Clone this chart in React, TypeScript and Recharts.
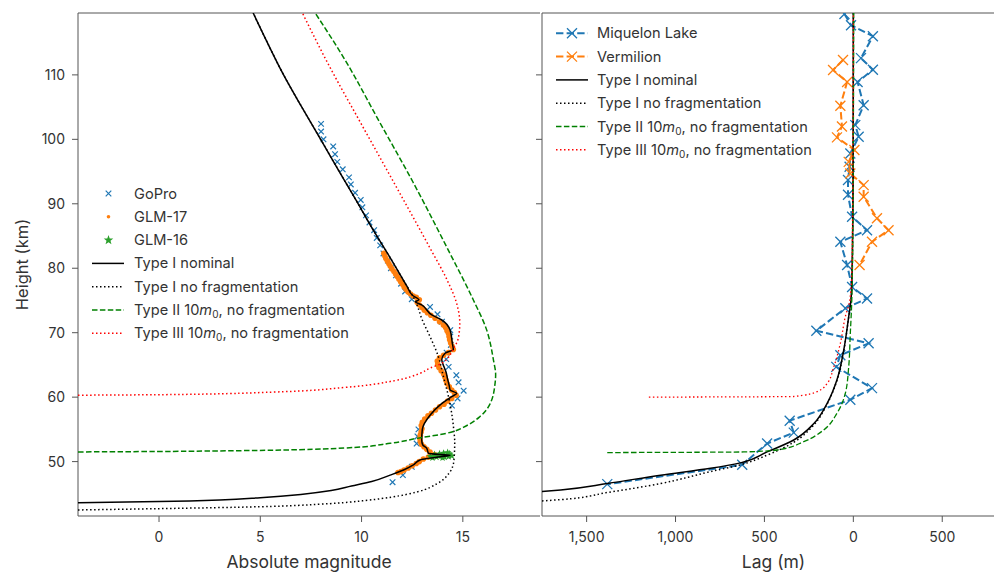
import React from "react";
import { ScatterChart, Scatter, XAxis, YAxis, ReferenceLine } from "recharts";

type Pt = [number, number];

const H_MIN = 41.56;
const H_MAX = 119.6;
const HEIGHT_TICKS = [50, 60, 70, 80, 90, 100, 110];
const MAG_TICKS = [0, 5, 10, 15];
const LAG_TICKS = [1500, 1000, 500, 0, -500];

// ---- left panel: absolute magnitude vs height (km)
const goPro: Pt[] = [
  [8.0, 102.4], [8.0, 101.2], [8.12, 100.0], [8.6, 98.9], [8.69, 97.7], [8.8, 96.5],
  [9.07, 95.35], [9.38, 94.1], [9.47, 93.0], [9.68, 91.7], [9.96, 90.6], [10.04, 89.45],
  [10.22, 88.2], [10.39, 87.1], [10.62, 85.9], [10.75, 84.7], [10.92, 83.55], [11.08, 82.3],
  [11.3, 81.2], [11.45, 80.0], [11.7, 78.9], [11.95, 77.6], [12.15, 76.4], [12.48, 75.2],
  [13.38, 74.0], [13.75, 72.85], [13.97, 71.7], [14.38, 70.4], [14.38, 69.4], [14.41, 68.1],
  [14.2, 66.9], [14.18, 65.9], [14.3, 64.7], [14.68, 63.4], [14.79, 62.3], [15.04, 61.0],
  [14.74, 59.8], [14.46, 58.7], [12.81, 55.0], [12.76, 53.9], [12.72, 52.8], [12.48, 49.2],
  [12.04, 47.9], [11.53, 46.8],
];

const glm17: Pt[] = [
  [11.1, 82.3], [11.15, 81.9], [11.2, 81.5], [11.28, 81.1], [11.35, 80.7], [11.42, 80.3],
  [11.5, 79.9], [11.6, 79.5], [11.68, 79.1], [11.76, 78.7], [11.85, 78.3], [11.93, 77.9],
  [12.02, 77.5], [12.1, 77.1], [12.2, 76.7], [12.3, 76.3], [12.42, 76.0], [12.55, 75.7],
  [12.7, 75.5], [12.85, 75.1], [12.75, 74.7], [12.85, 74.3], [12.98, 73.9], [13.1, 73.5],
  [13.25, 73.1], [13.42, 72.7], [13.63, 72.23], [13.85, 71.7], [14.04, 71.2], [14.15, 70.8],
  [14.22, 70.3], [14.29, 69.9], [14.32, 69.4], [14.35, 68.9], [14.4, 68.4], [14.47, 67.9],
  [14.53, 67.4], [14.29, 66.9], [14.05, 66.5], [13.85, 66.1], [13.74, 65.6], [13.76, 65.1],
  [13.82, 64.6], [13.93, 64.1], [14.05, 63.6], [14.12, 63.1], [14.17, 62.6], [14.22, 62.1],
  [14.33, 61.6], [14.45, 61.1], [14.58, 60.7], [14.67, 60.3], [14.45, 59.8], [14.25, 59.4],
  [14.07, 58.9], [13.85, 58.5], [13.65, 58.0], [13.45, 57.5], [13.28, 57.1], [13.12, 56.6],
  [13.0, 56.1], [12.95, 55.6], [12.98, 55.1], [12.94, 54.6], [12.9, 54.1], [12.88, 53.6],
  [12.9, 53.1], [12.96, 52.7], [13.08, 52.3], [13.22, 51.9], [13.38, 51.5], [13.6, 51.1],
  [13.3, 50.7], [13.05, 50.4], [12.85, 50.0], [12.7, 49.7], [12.5, 49.35], [12.3, 49.0],
  [12.1, 48.7], [11.95, 48.45], [11.8, 48.3],
];

const glm16: Pt[] = [
  [13.4, 50.8], [13.6, 51.1], [13.7, 50.7], [13.85, 51.2], [13.95, 50.9], [14.05, 51.3],
  [14.1, 50.7], [14.2, 51.0], [14.3, 50.8], [14.35, 51.2], [14.45, 50.9], [13.5, 50.6],
  [14.0, 50.6], [14.25, 51.4], [13.8, 50.9],
];

const magTypeINominal: Pt[] = [
  [4.65, 119.6], [5.35, 115], [6.15, 110], [7.05, 105], [7.98, 100], [8.9, 95], [9.72, 90.6],
  [10.58, 85.9], [11.38, 81.8], [12.26, 77.1], [12.51, 75.8], [12.83, 75.1],
  [12.67, 74.8], [12.97, 74.3], [13.47, 72.75], [13.96, 71.97], [14.37, 70.4], [14.48, 68.4],
  [14.53, 67.4], [14.12, 66.8], [13.96, 65.8], [14.07, 64.7], [14.17, 63.9], [14.24, 62.9],
  [14.34, 61.6], [14.37, 61.1], [14.7, 60.6], [14.45, 60.07], [13.88, 58.8], [13.38, 57.2],
  [13.0, 55.0], [12.97, 53.35], [13.02, 52.6], [13.22, 52.06], [13.3, 51.3], [13.88, 51.1],
  [14.37, 51.0], [13.88, 50.76], [13.3, 50.5], [12.89, 50.25], [12.56, 49.5], [12.07, 48.7],
  [11.41, 47.9], [10.5, 46.9], [9.5, 46.2], [8.5, 45.5], [7.0, 44.9], [5.0, 44.4], [3.0, 44.05],
  [0, 43.8], [-4, 43.6],
];

const magTypeINoFrag: Pt[] = [
  [4.65, 119.6], [5.35, 115], [6.15, 110], [7.05, 105], [7.98, 100], [8.9, 95], [9.72, 90.6],
  [10.58, 85.9], [11.38, 81.8], [12.26, 77.1], [12.51, 75.8], [12.75, 74.2],
  [12.97, 72.2], [13.38, 69.4], [13.79, 66.3], [14.04, 63.2], [14.29, 60.1], [14.45, 57.5],
  [14.55, 55.0], [14.6, 53.0], [14.56, 50.2], [14.32, 48.2], [13.74, 46.6], [12.75, 45.3],
  [11.5, 44.5], [10.3, 44.0], [8, 43.4], [5, 43.0], [0, 42.7], [-4, 42.5],
];

const magTypeII: Pt[] = [
  [7.71, 119.6], [9.15, 112.5], [10.85, 102.9], [12.55, 93.3], [14.25, 83.0], [15.52, 75.07],
  [16.18, 70.4], [16.51, 65.8], [16.62, 63.5], [16.59, 62.1], [16.35, 59.0], [15.85, 57.0],
  [15.2, 55.6], [14.2, 54.4], [12.73, 53.6], [11.41, 52.84], [9.15, 52.1], [4.07, 51.7],
  [-1, 51.55], [-4, 51.5],
];

const magTypeIII: Pt[] = [
  [7.08, 119.6], [8.3, 112.0], [10.0, 102.3], [11.7, 92.7], [13.4, 83.0], [14.25, 78.0],
  [14.7, 74.5], [14.85, 71.5], [14.78, 69.2], [14.53, 67.5], [13.96, 65.25], [13.38, 64.5],
  [12.89, 63.7], [11.7, 62.6], [9.15, 61.5], [5.75, 60.8], [0.65, 60.4], [-4, 60.3],
];

// ---- right panel: lag (m) vs height (km)
const miquelonLake: Pt[] = [
  [50, 119.45], [13, 117.7], [-110, 116.0], [-43, 112.6], [-110, 110.8], [-24, 108.9],
  [-58, 105.3], [-11, 102.2], [-30, 100.4], [17, 97.8], [21, 95.75], [30, 93.7], [30, 91.4],
  [7, 88.0], [-77, 85.9], [73, 84.1], [35, 80.5], [7, 77.1], [-77, 75.3], [45, 73.8],
  [208, 70.3], [-86, 68.35], [73, 66.5], [96, 64.7], [-105, 61.4], [17, 59.6], [358, 56.35],
  [335, 54.5], [485, 52.8], [625, 49.5], [1384, 46.5],
];

const vermilion: Pt[] = [
  [58, 112.3], [114, 110.75], [35, 108.9], [73, 105.2], [64, 102.0], [92, 100.3], [-6, 98.35],
  [26, 96.5], [17, 94.7], [-58, 92.9], [-58, 91.1], [-133, 87.75], [-198, 85.9], [-105, 84.1],
  [-35, 80.5],
];

const lagTypeINominal: Pt[] = [
  [0, 119.6], [1, 95], [4, 85], [8, 78], [13, 75.1], [26, 72.5], [54, 67.3], [92, 62.7],
  [148, 59.0], [222, 55.9], [335, 53.35], [485, 51.5], [635, 49.8], [803, 48.96], [1084, 47.9],
  [1384, 46.6], [1646, 45.6], [1751, 45.35],
];

const lagTypeINoFrag: Pt[] = [
  [0, 119.6], [1, 95], [4, 85], [8, 78], [13, 75], [26, 72.4], [54, 67.2], [92, 62.6],
  [150, 58.8], [225, 55.6], [335, 53.0], [485, 51.0], [635, 49.5], [803, 48.45], [1084, 46.6],
  [1384, 45.2], [1646, 44.1], [1751, 43.9],
];

const lagTypeII: Pt[] = [
  [-2, 119.6], [0, 100], [5, 80], [10, 74], [17, 69.9], [26, 64.7], [45, 60.6], [92, 57.5],
  [167, 54.9], [279, 53.1], [428, 51.8], [616, 51.5], [1384, 51.4],
];

const lagTypeIII: Pt[] = [
  [0, 119.6], [2, 100], [8, 80], [20, 75], [45, 72.5], [73, 68.35], [110, 64.7], [148, 62.1],
  [204, 60.85], [335, 60.1], [1150, 60.0],
];

const BLUE = "#1f77b4";
const ORANGE = "#ff7f0e";
const STAR_GREEN = "#2ca02c";
const GREEN = "#008000";
const RED = "#ff0000";
const AXIS = "#555";
const TEXT = "#333";
const FONT = "Inter, 'Open Sans', sans-serif";

const DASH = "5.5 2.4";
const DOT = "1.5 2.5";

const toXY = (pts: Pt[]) => pts.map(([x, y]) => ({ x, y }));
// model curves are smoothed along height, so feed them bottom-up
const curveXY = (pts: Pt[]) => toXY(pts).reverse();

const NoDot = () => <g />;

const crossPath = (cx: number, cy: number, r: number) =>
  `M${cx - r},${cy - r}L${cx + r},${cy + r}M${cx - r},${cy + r}L${cx + r},${cy - r}`;

const starPath = (cx: number, cy: number, R: number, r: number) => {
  let d = "";
  for (let i = 0; i < 10; i++) {
    const a = ((-90 + i * 36) * Math.PI) / 180;
    const rad = i % 2 ? r : R;
    d += `${i ? "L" : "M"}${cx + rad * Math.cos(a)},${cy + rad * Math.sin(a)}`;
  }
  return d + "Z";
};

const SmallCross = (p: any) => (
  <path d={crossPath(p.cx, p.cy, 2.8)} stroke={BLUE} strokeWidth={1.2} fill="none" />
);
const OrangeDot = (p: any) => <circle cx={p.cx} cy={p.cy} r={2.8} fill={ORANGE} />;
const GreenStar = (p: any) => <path d={starPath(p.cx, p.cy, 4, 1.7)} fill={STAR_GREEN} />;
const BigCross = (color: string) => (p: any) => (
  <path d={crossPath(p.cx, p.cy, 5)} stroke={color} strokeWidth={1.3} fill="none" />
);

const tickStyle = { fill: TEXT, fontSize: 14 };

const HeightLabel = (props: any) => {
  const vb = props.viewBox || { y: 13, height: 503 };
  const cy = vb.y + vb.height / 2;
  return (
    <text
      x={22}
      y={cy}
      transform={`rotate(-90, 22, ${cy})`}
      textAnchor="middle"
      dominantBaseline="central"
      fill={TEXT}
      fontSize={16.5}
    >
      Height (km)
    </text>
  );
};

const Sub0 = () => (
  <>
    <tspan fontStyle="italic">m</tspan>
    <tspan fontSize={10} dy={4}>0</tspan>
    <tspan dy={-4}>,</tspan>
  </>
);

function LegendLine({ x1, x2, y, color, dash, w }: any) {
  return <line x1={x1} x2={x2} y1={y} y2={y} stroke={color} strokeWidth={w} strokeDasharray={dash} />;
}

function Legends() {
  const lx = 134;
  const ly = (i: number) => 193.5 + i * 23.3;
  const rx = 597;
  const ry = (i: number) => 33.3 + i * 23.3;
  const t = (x: number, y: number, children: any) => (
    <text x={x} y={y} dominantBaseline="central" fill={TEXT} fontSize={14.6}>
      {children}
    </text>
  );
  return (
    <svg width={994} height={573} style={{ position: "absolute", left: 0, top: 0, pointerEvents: "none" }}>
      <path d={crossPath(108.5, ly(0), 2.8)} stroke={BLUE} strokeWidth={1.2} />
      {t(lx, ly(0), "GoPro")}
      <circle cx={108.5} cy={ly(1)} r={1.8} fill={ORANGE} />
      {t(lx, ly(1), "GLM-17")}
      <path d={starPath(108.5, ly(2), 5, 2.1)} fill={STAR_GREEN} />
      {t(lx, ly(2), "GLM-16")}
      <LegendLine x1={92} x2={124} y={ly(3)} color="#000" w={1.5} />
      {t(lx, ly(3), "Type I nominal")}
      <LegendLine x1={92} x2={124} y={ly(4)} color="#000" w={1.5} dash={DOT} />
      {t(lx, ly(4), "Type I no fragmentation")}
      <LegendLine x1={92} x2={124} y={ly(5)} color={GREEN} w={1.5} dash={DASH} />
      {t(lx, ly(5), <>Type II 10<Sub0 /> no fragmentation</>)}
      <LegendLine x1={92} x2={124} y={ly(6)} color={RED} w={1.5} dash={DOT} />
      {t(lx, ly(6), <>Type III 10<Sub0 /> no fragmentation</>)}

      <LegendLine x1={556} x2={588} y={ry(0)} color={BLUE} w={2} dash="7.4 3.2" />
      <path d={crossPath(572, ry(0), 5)} stroke={BLUE} strokeWidth={1.3} />
      {t(rx, ry(0), "Miquelon Lake")}
      <LegendLine x1={556} x2={588} y={ry(1)} color={ORANGE} w={2} dash="7.4 3.2" />
      <path d={crossPath(572, ry(1), 5)} stroke={ORANGE} strokeWidth={1.3} />
      {t(rx, ry(1), "Vermilion")}
      <LegendLine x1={556} x2={588} y={ry(2)} color="#000" w={1.5} />
      {t(rx, ry(2), "Type I nominal")}
      <LegendLine x1={556} x2={588} y={ry(3)} color="#000" w={1.5} dash={DOT} />
      {t(rx, ry(3), "Type I no fragmentation")}
      <LegendLine x1={556} x2={588} y={ry(4)} color={GREEN} w={1.5} dash={DASH} />
      {t(rx, ry(4), <>Type II 10<Sub0 /> no fragmentation</>)}
      <LegendLine x1={556} x2={588} y={ry(5)} color={RED} w={1.5} dash={DOT} />
      {t(rx, ry(5), <>Type III 10<Sub0 /> no fragmentation</>)}
    </svg>
  );
}

const lagFormat = (v: number) => Math.abs(v).toLocaleString("en-US");

const modelLine = (data: Pt[], stroke: string, width: number, dash?: string) => (
  <Scatter
    data={curveXY(data)}
    line={{ stroke, strokeWidth: width, strokeDasharray: dash }}
    lineJointType="monotoneY"
    shape={NoDot}
    isAnimationActive={false}
  />
);

export default function App() {
  return (
    <div
      style={{
        position: "absolute",
        left: 0,
        top: 0,
        width: 994,
        height: 573,
        overflow: "hidden",
        background: "#fff",
        fontFamily: FONT,
      }}
    >
      <div style={{ position: "absolute", left: 0, top: 0 }}>
        <ScatterChart width={540} height={573} margin={{ top: 13, right: 0, bottom: 0, left: 0 }}>
          <XAxis
            type="number"
            dataKey="x"
            domain={[-4, 18.81]}
            ticks={MAG_TICKS}
            allowDataOverflow
            height={57}
            tickSize={6}
            tickMargin={10}
            tick={tickStyle}
            tickLine={{ stroke: AXIS }}
            axisLine={{ stroke: AXIS }}
            label={{ value: "Absolute magnitude", position: "insideBottom", offset: 5, fill: TEXT, fontSize: 17.5 }}
          />
          <YAxis
            type="number"
            dataKey="y"
            domain={[H_MIN, H_MAX]}
            ticks={HEIGHT_TICKS}
            allowDataOverflow
            width={78}
            tickSize={6}
            tickMargin={7}
            tick={tickStyle}
            tickLine={{ stroke: AXIS }}
            axisLine={{ stroke: AXIS }}
            label={<HeightLabel />}
          />
          <ReferenceLine y={H_MAX} stroke={AXIS} ifOverflow="visible" />
          <Scatter data={toXY(goPro)} shape={SmallCross} isAnimationActive={false} />
          <Scatter data={toXY(glm17)} shape={OrangeDot} isAnimationActive={false} />
          <Scatter data={toXY(glm16)} shape={GreenStar} isAnimationActive={false} />
          {modelLine(magTypeINominal, "#000", 1.5)}
          {modelLine(magTypeINoFrag, "#000", 1.5, DOT)}
          {modelLine(magTypeII, GREEN, 1.5, DASH)}
          {modelLine(magTypeIII, RED, 1.5, DOT)}
        </ScatterChart>
      </div>

      <div style={{ position: "absolute", left: 535, top: 0 }}>
        <ScatterChart width={470} height={573} margin={{ top: 13, right: 0, bottom: 0, left: 0 }}>
          <XAxis
            type="number"
            dataKey="x"
            domain={[-853, 1751]}
            reversed
            ticks={LAG_TICKS}
            tickFormatter={lagFormat}
            allowDataOverflow
            height={57}
            tickSize={6}
            tickMargin={10}
            tick={tickStyle}
            tickLine={{ stroke: AXIS }}
            axisLine={{ stroke: AXIS }}
            label={{ value: "Lag (m)", position: "insideBottom", offset: 5, fill: TEXT, fontSize: 17.5 }}
          />
          <YAxis
            type="number"
            dataKey="y"
            domain={[H_MIN, H_MAX]}
            ticks={HEIGHT_TICKS}
            allowDataOverflow
            width={7}
            tickSize={6}
            tickMargin={0}
            tickFormatter={() => ""}
            tick={tickStyle}
            tickLine={{ stroke: AXIS }}
            axisLine={{ stroke: AXIS }}
          />
          <ReferenceLine y={H_MAX} stroke={AXIS} ifOverflow="visible" />
          <Scatter
            data={toXY(miquelonLake)}
            line={{ stroke: BLUE, strokeWidth: 2, strokeDasharray: "7.4 3.2" }}
            shape={BigCross(BLUE)}
            isAnimationActive={false}
          />
          <Scatter
            data={toXY(vermilion)}
            line={{ stroke: ORANGE, strokeWidth: 2, strokeDasharray: "7.4 3.2" }}
            shape={BigCross(ORANGE)}
            isAnimationActive={false}
          />
          {modelLine(lagTypeINominal, "#000", 1.5)}
          {modelLine(lagTypeINoFrag, "#000", 1.5, DOT)}
          {modelLine(lagTypeII, GREEN, 1.3, DASH)}
          {modelLine(lagTypeIII, RED, 1.3, DOT)}
        </ScatterChart>
      </div>

      <Legends />
    </div>
  );
}
